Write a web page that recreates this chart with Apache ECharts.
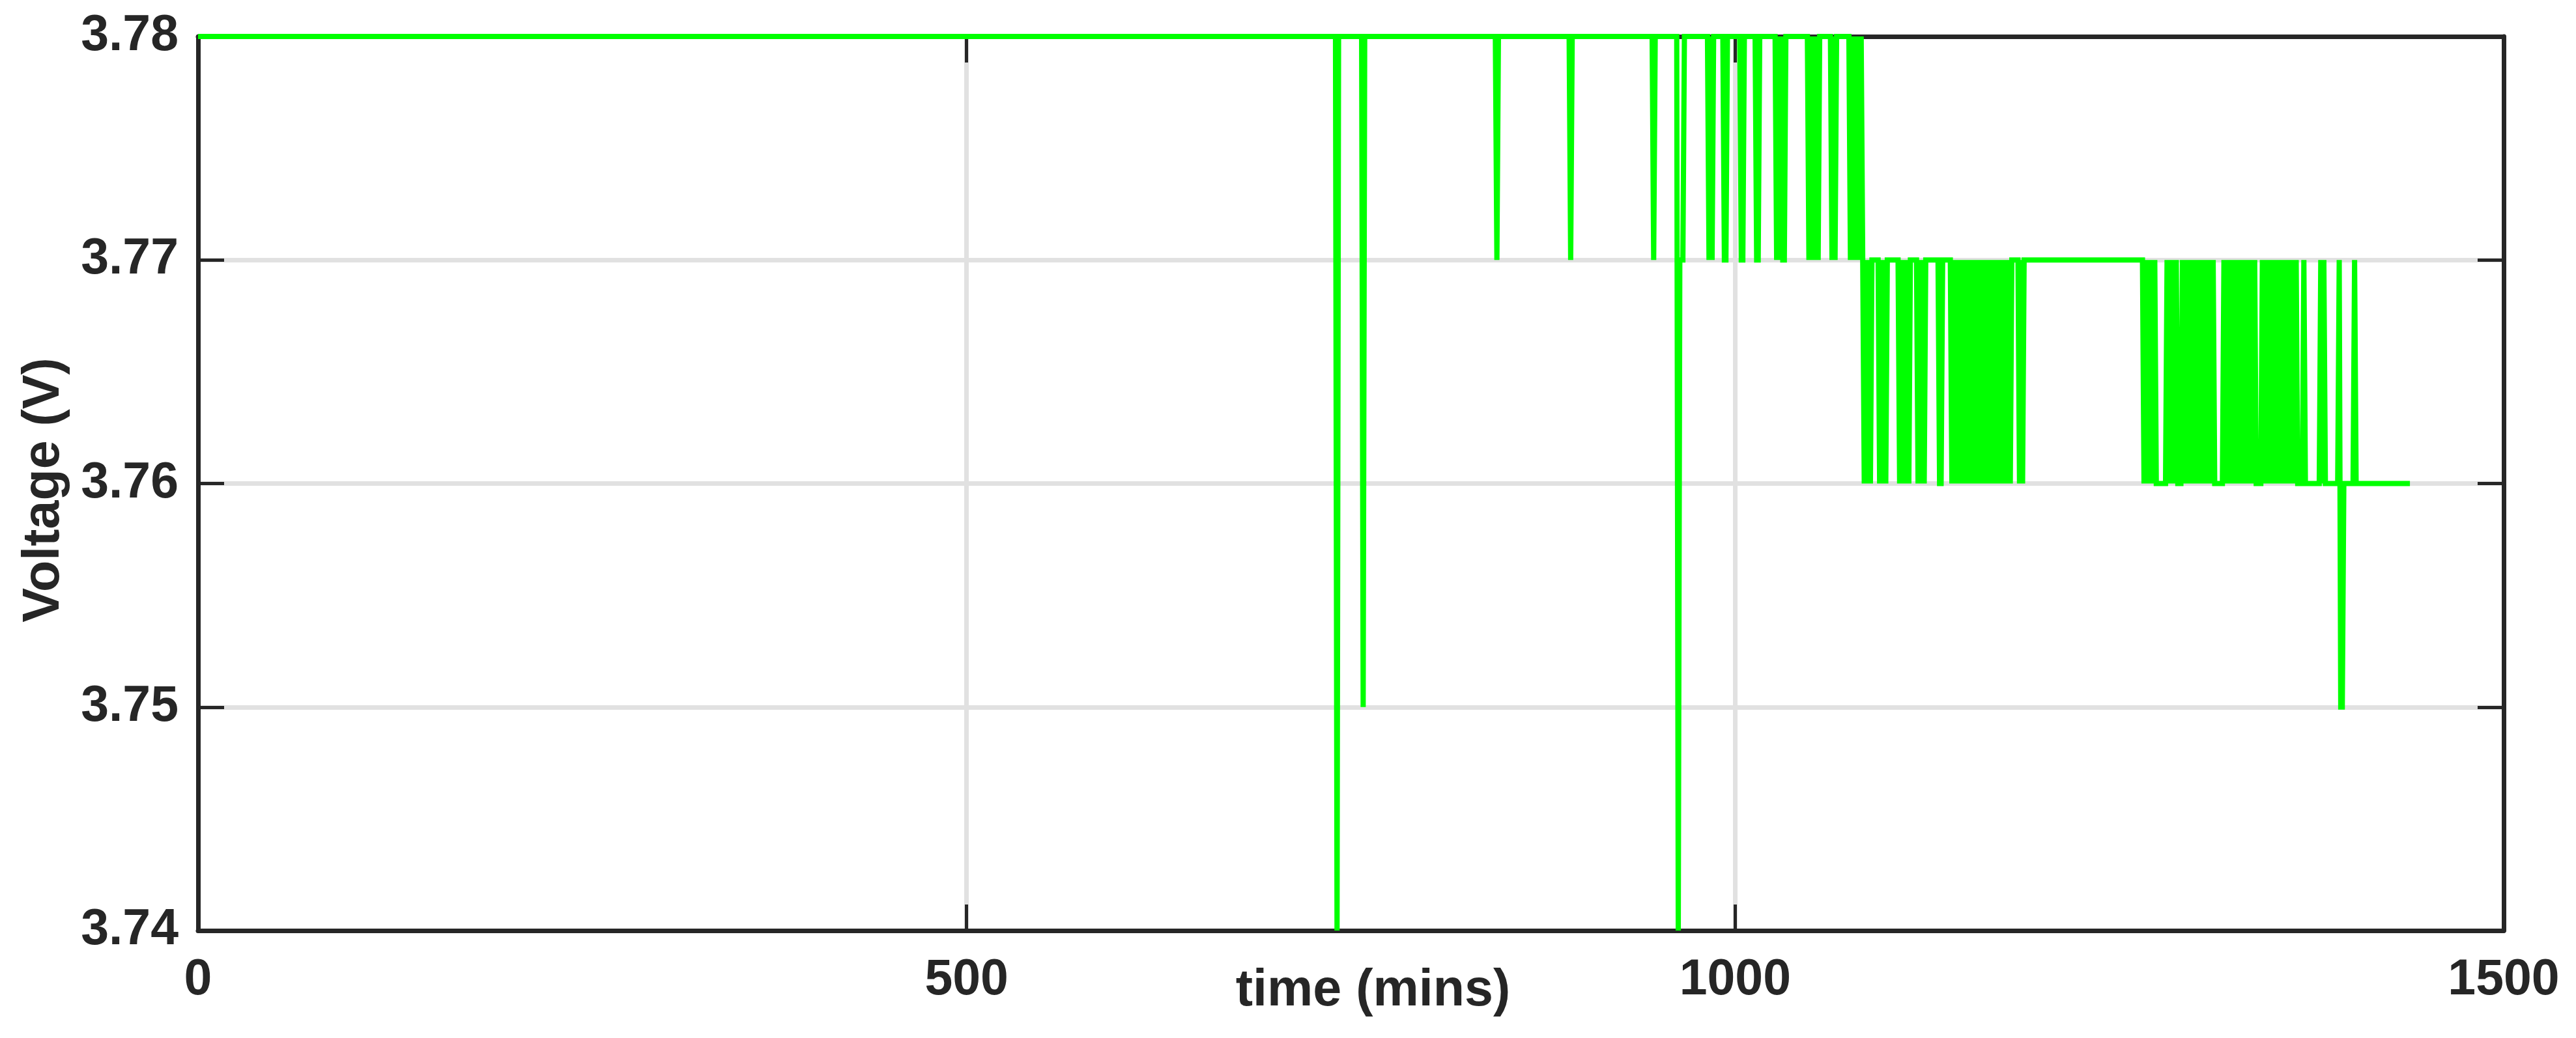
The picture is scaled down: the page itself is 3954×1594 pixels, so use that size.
<!DOCTYPE html>
<html>
<head>
<meta charset="utf-8">
<script src="https://cdn.jsdelivr.net/npm/echarts@6/dist/echarts.min.js"></script>
<style>
html,body{margin:0;padding:0;background:#fff;}
#chart{width:3954px;height:1594px;}
</style>
</head>
<body>
<div id="chart"></div>
<script>
// ---- data: [time (mins), voltage (V)] vertices ----
const phaseFlat = [
  [0,3.78],
  [740,3.78],[741,3.74],[742,3.78],
  [757,3.78],[758,3.75],[759,3.78],
  [844,3.78],[845,3.77],[846,3.78],
  [892,3.78],[893,3.77],[894,3.78],
  [946,3.78],[947,3.77],[948,3.78],
  [962,3.78],[963,3.74],[964,3.77],[966,3.77],[967,3.78],
  [982,3.78],[983,3.77],[984,3.78],[985,3.77],[986,3.78],
  [992,3.78],[993,3.77],[994,3.77],[995,3.78],
  [1003,3.78],[1004,3.77],[1005,3.77],[1006,3.78],
  [1013,3.78],[1014,3.77],[1015,3.77],[1016,3.78],
  [1026,3.78],[1027,3.77],[1028,3.78],[1029,3.77],[1030,3.78],[1031,3.77],[1032,3.77],[1033,3.78],
  [1047,3.78],[1048,3.77],[1049,3.78],[1050,3.77],[1051,3.78],[1052,3.77],[1053,3.78],[1054,3.77],[1055,3.78],
  [1062,3.78],[1063,3.77],[1064,3.78],[1065,3.77],[1066,3.78],
  [1074,3.78],[1075,3.77],[1076,3.78],[1077,3.77],[1078,3.78],[1079,3.77],[1080,3.78],[1081,3.77],[1082,3.78],[1083,3.77]
];
const phaseMid = [
  [1084,3.76],[1085,3.77],[1086,3.76],[1087,3.77],[1088,3.76],[1089,3.77],
  [1093,3.77],[1094,3.76],[1095,3.77],[1096,3.76],[1097,3.77],[1098,3.76],[1099,3.77],
  [1106,3.77],[1107,3.76],[1108,3.77],[1109,3.76],[1110,3.77],[1111,3.76],[1112,3.77],[1113,3.76],[1114,3.77],
  [1118,3.77],[1119,3.76],[1120,3.77],[1121,3.76],[1122,3.77],[1123,3.76],[1124,3.77],
  [1132,3.77],[1133,3.76],[1134,3.76],[1135,3.77],
  [1140,3.77],[1141,3.76],[1142,3.77],[1143,3.76],[1144,3.77],[1145,3.76],[1146,3.77],[1147,3.76],
  [1148,3.77],[1149,3.76],[1150,3.77],[1151,3.76],[1152,3.77],[1153,3.76],[1154,3.77],[1155,3.76],
  [1156,3.77],[1157,3.76],[1158,3.77],[1159,3.76],[1160,3.77],[1161,3.76],[1162,3.77],[1163,3.76],
  [1164,3.77],[1165,3.76],[1166,3.77],[1167,3.76],[1168,3.77],[1169,3.76],[1170,3.77],[1171,3.76],
  [1172,3.77],[1173,3.76],[1174,3.77],[1175,3.76],[1176,3.77],[1177,3.76],[1178,3.77],[1179,3.76],[1180,3.77],
  [1184,3.77],[1185,3.76],[1186,3.77],[1187,3.76],[1188,3.77],
  [1265,3.77]
];
const phaseLow = [
  [1266,3.76],[1267,3.77],[1268,3.76],[1269,3.77],[1270,3.76],[1271,3.77],[1272,3.76],[1273,3.77],[1274,3.76],
  [1280,3.76],[1281,3.77],[1282,3.76],[1283,3.77],[1284,3.76],[1285,3.77],[1286,3.76],[1287,3.77],[1288,3.76],
  [1290,3.76],[1291,3.77],[1292,3.76],[1293,3.77],[1294,3.76],[1295,3.77],[1296,3.76],[1297,3.77],
  [1298,3.76],[1299,3.77],[1300,3.76],[1301,3.77],[1302,3.76],[1303,3.77],[1304,3.76],[1305,3.77],
  [1306,3.76],[1307,3.77],[1308,3.76],[1309,3.77],[1310,3.76],[1311,3.77],[1312,3.76],
  [1317,3.76],[1318,3.77],[1319,3.76],[1320,3.77],[1321,3.76],[1322,3.77],[1323,3.76],[1324,3.77],
  [1325,3.76],[1326,3.77],[1327,3.76],[1328,3.77],[1329,3.76],[1330,3.77],[1331,3.76],[1332,3.77],
  [1333,3.76],[1334,3.77],[1335,3.76],[1336,3.77],[1337,3.76],[1338,3.77],[1339,3.76],
  [1342,3.76],[1343,3.77],[1344,3.76],[1345,3.77],[1346,3.76],[1347,3.77],[1348,3.76],[1349,3.77],
  [1350,3.76],[1351,3.77],[1352,3.76],[1353,3.77],[1354,3.76],[1355,3.77],[1356,3.76],[1357,3.77],
  [1358,3.76],[1359,3.77],[1360,3.76],[1361,3.77],[1362,3.76],[1363,3.77],[1364,3.76],[1365,3.77],[1366,3.76],
  [1369,3.76],[1370,3.77],[1371,3.76],
  [1380,3.76],[1381,3.77],[1382,3.76],[1383,3.77],[1384,3.76],
  [1392,3.76],[1393,3.77],[1394,3.75],[1395,3.75],[1396,3.76],
  [1402,3.76],[1403,3.77],[1404,3.76],
  [1439,3.76]
];
const xTicks = [0, 500, 1000, 1500];
const yTicks = [3.74, 3.75, 3.76, 3.77, 3.78];
const xName = 'time (mins)';
const yName = 'Voltage (V)';

// ---- chart ----
const FONT = "'Liberation Sans', Arial, Helvetica, sans-serif";
const INK = '#262626';
const chart = echarts.init(document.getElementById('chart'), null, {renderer: 'canvas'});
const frameLine = {show: true, onZero: false, lineStyle: {color: INK, width: 7}};
const tick = {show: true, inside: true, length: 40, lineStyle: {color: INK, width: 5}};
const gridLine = {show: true, lineStyle: {color: '#e1e1e1', width: 7}};
const labelStyle = {color: INK, fontFamily: FONT, fontWeight: 'bold', fontSize: 77};

chart.setOption({
  animation: false,
  backgroundColor: '#ffffff',
  grid: {left: 304, right: 111, top: 56, bottom: 165, containLabel: false, outerBoundsMode: 'none'},
  xAxis: [
    {
      type: 'value', position: 'bottom',
      min: xTicks[0], max: xTicks[xTicks.length - 1], interval: xTicks[1] - xTicks[0],
      name: xName, nameLocation: 'middle', nameGap: 54, nameMoveOverlap: false,
      nameTextStyle: Object.assign({}, labelStyle, {fontSize: 79, padding: [0, 0, 0, 68]}),
      axisLine: frameLine, axisTick: tick,
      axisLabel: Object.assign({}, labelStyle, {margin: 38, formatter: v => String(v)}),
      splitLine: gridLine
    },
    {
      type: 'value', position: 'top',
      min: xTicks[0], max: xTicks[xTicks.length - 1], interval: xTicks[1] - xTicks[0],
      axisLine: frameLine, axisTick: tick,
      axisLabel: {show: false}, splitLine: {show: false}
    }
  ],
  yAxis: [
    {
      type: 'value', position: 'left',
      min: yTicks[0], max: yTicks[yTicks.length - 1], interval: 0.01,
      name: yName, nameLocation: 'middle', nameGap: 196, nameMoveOverlap: false,
      nameTextStyle: Object.assign({}, labelStyle, {fontSize: 79, padding: [0, 20, 0, 0]}),
      axisLine: frameLine, axisTick: tick,
      axisLabel: Object.assign({}, labelStyle, {margin: 30, formatter: v => v.toFixed(2)}),
      splitLine: gridLine
    },
    {
      type: 'value', position: 'right',
      min: yTicks[0], max: yTicks[yTicks.length - 1], interval: 0.01,
      axisLine: frameLine, axisTick: tick,
      axisLabel: {show: false}, splitLine: {show: false}
    }
  ],
  series: [{
    type: 'line',
    xAxisIndex: 0, yAxisIndex: 0,
    data: phaseFlat.concat(phaseMid, phaseLow),
    showSymbol: false, symbol: 'none',
    clip: false,
    lineStyle: {color: '#00ff00', width: 8, join: 'miter'},
    z: 3
  }]
});
</script>
</body>
</html>
